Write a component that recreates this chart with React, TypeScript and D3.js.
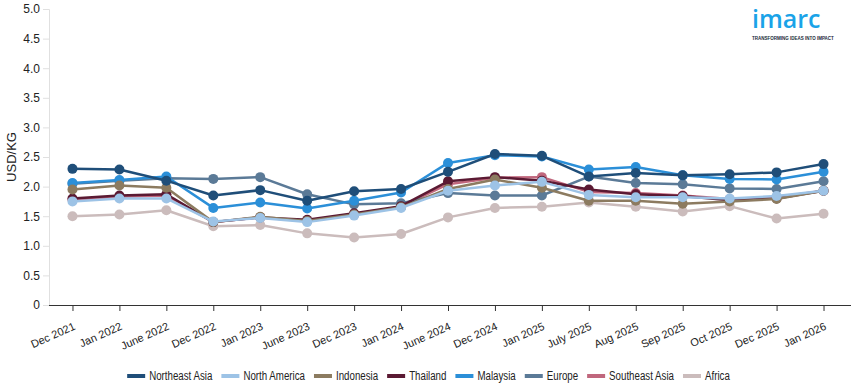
import { useEffect, useRef } from 'react';
import * as d3 from 'd3';

const categories = [
  'Dec 2021', 'Jan 2022', 'June 2022', 'Dec 2022', 'Jan 2023', 'June 2023',
  'Dec 2023', 'Jan 2024', 'June 2024', 'Dec 2024', 'Jan 2025', 'July 2025',
  'Aug 2025', 'Sep 2025', 'Oct 2025', 'Dec 2025', 'Jan 2026',
];

const northeastAsia = [2.30, 2.29, 2.10, 1.85, 1.94, 1.76, 1.92, 1.96, 2.25, 2.55, 2.52, 2.17, 2.23, 2.19, 2.21, 2.24, 2.38];
const northAmerica = [1.75, 1.80, 1.80, 1.41, 1.47, 1.40, 1.51, 1.64, 1.93, 2.02, 2.08, 1.86, 1.82, 1.82, 1.80, 1.84, 1.93];
const indonesia = [1.95, 2.02, 1.98, 1.40, 1.49, 1.42, 1.53, 1.65, 1.96, 2.12, 1.98, 1.76, 1.76, 1.71, 1.75, 1.79, 1.93];
const thailand = [1.80, 1.85, 1.87, 1.40, 1.48, 1.44, 1.55, 1.67, 2.09, 2.16, 2.10, 1.95, 1.87, 1.84, 1.77, 1.80, 1.93];
const malaysia = [2.06, 2.11, 2.17, 1.64, 1.73, 1.63, 1.76, 1.90, 2.40, 2.53, 2.51, 2.29, 2.33, 2.19, 2.13, 2.12, 2.25];
const europe = [2.05, 2.10, 2.14, 2.13, 2.16, 1.87, 1.70, 1.72, 1.89, 1.85, 1.85, 2.17, 2.06, 2.04, 1.97, 1.96, 2.09];
const southeastAsia = [1.78, 1.83, 1.85, 1.40, 1.48, 1.42, 1.53, 1.66, 2.04, 2.15, 2.16, 1.91, 1.89, 1.85, 1.79, 1.82, 1.93];
const africa = [1.50, 1.53, 1.60, 1.33, 1.35, 1.21, 1.14, 1.20, 1.48, 1.64, 1.66, 1.73, 1.66, 1.58, 1.67, 1.46, 1.54];

const seriesNames = ['Northeast Asia', 'North America', 'Indonesia', 'Thailand', 'Malaysia', 'Europe', 'Southeast Asia', 'Africa'];
const seriesValues = [northeastAsia, northAmerica, indonesia, thailand, malaysia, europe, southeastAsia, africa];
const seriesColors = ['#1f4e79', '#9dc3e6', '#8c7b60', '#5b1a33', '#2b8fd8', '#5b7a97', '#c0677d', '#cbbcbc'];

const yTicks = [0, 0.5, 1, 1.5, 2, 2.5, 3, 3.5, 4, 4.5, 5];

const width = 855;
const height = 390;
const font = '"Liberation Sans", Arial, sans-serif';

export default function App() {
  const svgRef = useRef<SVGSVGElement>(null);

  useEffect(() => {
    if (!svgRef.current) return;
    const svg = d3.select(svgRef.current);
    svg.selectAll('*').remove();

    const x = d3.scalePoint<string>()
      .domain(categories)
      .range([49, 847])
      .padding(0.5);

    const y = d3.scaleLinear()
      .domain([0, 5])
      .range([305, 9]);

    // y axis (light)
    const yAxis = svg.append('g')
      .attr('transform', 'translate(49,0)')
      .call(d3.axisLeft(y)
        .tickValues(yTicks)
        .tickSize(6)
        .tickPadding(3)
        .tickFormat(d => (d === 0 ? '0' : d3.format('.1f')(d as number))));
    yAxis.select('.domain').attr('stroke', '#e0e0e0');
    yAxis.selectAll('.tick line').attr('stroke', '#e0e0e0');
    yAxis.selectAll('.tick text')
      .attr('fill', '#222')
      .style('font-family', font)
      .style('font-size', '12px');

    // x axis
    const xAxis = svg.append('g')
      .attr('transform', 'translate(0,305)')
      .call(d3.axisBottom(x).tickSize(6).tickSizeOuter(0));
    xAxis.select('.domain').attr('stroke', '#333').attr('d', 'M49,0.5H851');
    xAxis.selectAll('.tick line').attr('stroke', '#333');
    xAxis.selectAll('.tick text')
      .attr('fill', '#222')
      .style('font-family', font)
      .style('font-size', '11px')
      .attr('text-anchor', 'end')
      .attr('dy', null)
      .attr('y', 0)
      .attr('transform', 'translate(3,24) rotate(-24)');

    // y title
    svg.append('text')
      .attr('transform', 'translate(16,157) rotate(-90)')
      .attr('text-anchor', 'middle')
      .style('font-family', font)
      .style('font-size', '13px')
      .attr('fill', '#222')
      .text('USD/KG');

    const line = d3.line<number>()
      .x((_, i) => x(categories[i]) as number)
      .y(d => y(d));

    // draw last series first so Northeast Asia ends on top
    const order = d3.range(seriesNames.length).reverse();
    order.forEach(k => {
      const g = svg.append('g');
      g.append('path')
        .datum(seriesValues[k])
        .attr('fill', 'none')
        .attr('stroke', seriesColors[k])
        .attr('stroke-width', 2.5)
        .attr('stroke-linejoin', 'round')
        .attr('d', line);
      g.selectAll('circle')
        .data(seriesValues[k])
        .enter()
        .append('circle')
        .attr('cx', (_, i) => x(categories[i]) as number)
        .attr('cy', d => y(d))
        .attr('r', 5)
        .attr('fill', seriesColors[k]);
    });

    // legend (condensed text, like the original's narrow face)
    const legend = svg.append('g');
    let cursor = 0;
    seriesNames.forEach((name, k) => {
      const item = legend.append('g').attr('transform', `translate(${cursor},0)`);
      item.append('rect')
        .attr('x', 0)
        .attr('y', -2)
        .attr('width', 18)
        .attr('height', 4)
        .attr('fill', seriesColors[k]);
      const t = item.append('text')
        .attr('x', 22)
        .attr('y', 4)
        .style('font-family', font)
        .style('font-size', '12px')
        .attr('fill', '#222')
        .text(name);
      const w = (t.node() as SVGTextElement).getComputedTextLength() * 0.81;
      t.attr('textLength', w).attr('lengthAdjust', 'spacingAndGlyphs');
      cursor += 22 + w + 9;
    });
    const total = cursor - 9;
    legend.attr('transform', `translate(${(width - total) / 2 + 1},376)`);

    // logo
    const logo = svg.append('g').attr('transform', 'translate(752,0)');
    logo.append('text')
      .attr('x', 0)
      .attr('y', 28)
      .style('font-family', '"Open Sans", "Noto Sans", sans-serif')
      .style('font-size', '25px')
      .style('font-weight', 600)
      .attr('fill', '#1aa3e8')
      .text('imarc');
    logo.append('text')
      .attr('x', 0)
      .attr('y', 40)
      .style('font-family', font)
      .style('font-size', '4.5px')
      .style('font-weight', 700)
      .attr('fill', '#1a2a3a')
      .text('TRANSFORMING IDEAS INTO IMPACT');
  }, []);

  return (
    <svg
      ref={svgRef}
      width={width}
      height={height}
      style={{ position: 'absolute', left: 0, top: 0, background: '#fff' }}
    />
  );
}
